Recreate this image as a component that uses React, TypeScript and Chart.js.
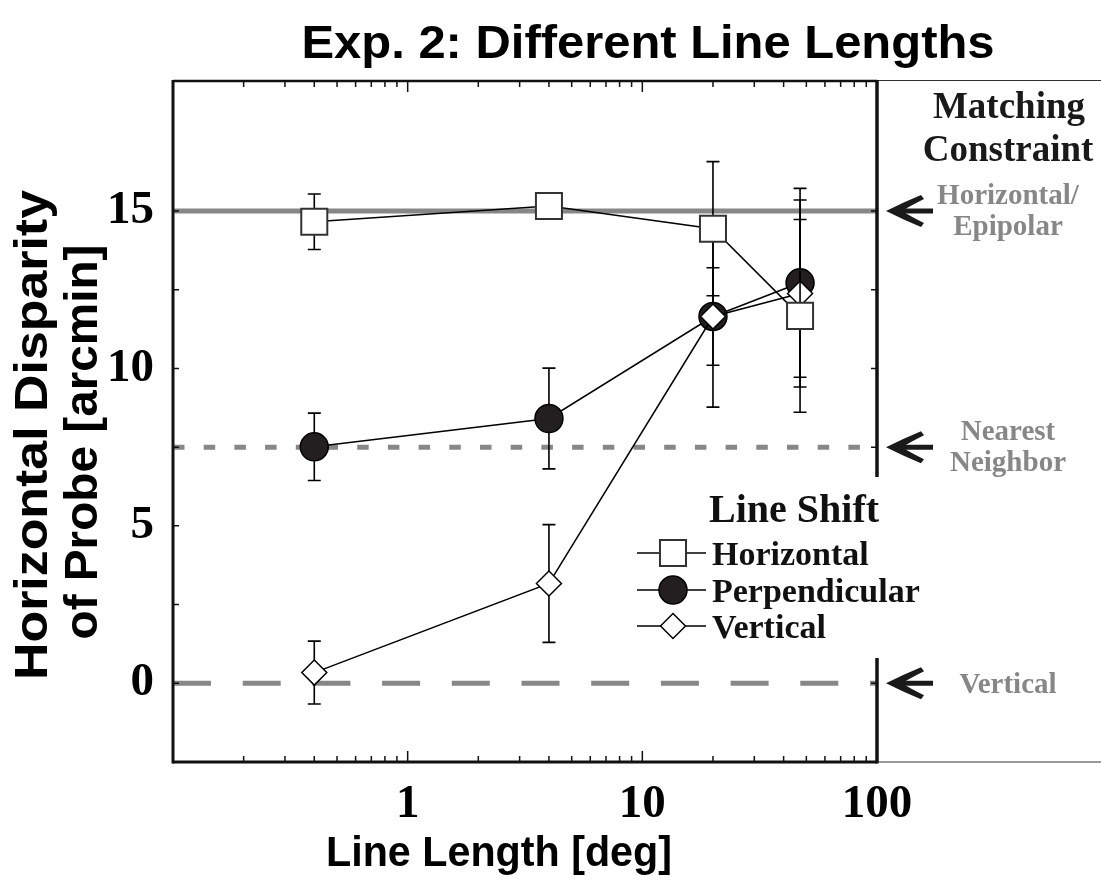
import React, { useEffect, useRef } from "react";
import { Chart, registerables } from "chart.js";

Chart.register(...registerables);

// ---- data ----
const lineLengths = [0.4, 4, 20, 47];
const horizontalMean = [14.66, 15.16, 14.44, 11.67];
const horizontalErr = [0.88, 0.35, 2.13, 3.06];
const perpendicularMean = [7.51, 8.41, 11.65, 12.72];
const perpendicularErr = [1.07, 1.6, 2.88, 3.0];
const verticalMean = [0.34, 3.17, 11.65, 12.38];
const verticalErr = [1.0, 1.87, 1.55, 2.97];

const seriesNames = ["Horizontal", "Perpendicular", "Vertical"];
const constraintLevels = [15, 7.5, 0];
const constraintLabels = [["Horizontal/", "Epipolar"], ["Nearest", "Neighbor"], ["Vertical"]];
const constraintTitle = ["Matching", "Constraint"];
const legendTitle = "Line Shift";
const chartTitle = "Exp. 2: Different Line Lengths";
const xTitle = "Line Length [deg]";
const yTitle = ["Horizontal Disparity", "of Probe [arcmin]"];

const xRange = [0.1, 100];
const yRange = [-2.5, 19.13];
const xTickLabels = [1, 10, 100];
const xDecades = [0.1, 1, 10];
const yTickLabels = [0, 5, 10, 15];
const yTickMarks = [0, 2.5, 5, 7.5, 10, 12.5, 15];

const GRAY = "#878787";
const SERIF = "'Liberation Serif', 'Times New Roman', serif";
const SANS = "'Liberation Sans', Arial, sans-serif";

const xTickValues: number[] = [];
xDecades.forEach((d) => {
  for (let k = 1; k <= 9; k++) xTickValues.push(d === 1 || d === 10 ? k * d : +(k * d).toFixed(2));
});
xTickValues.push(100);

const pts = (ys: number[]) => lineLengths.map((x, i) => ({ x, y: ys[i] }));
const refPts = (y: number) => [
  { x: xRange[0], y },
  { x: xRange[1], y },
];

// draw centred text stretched along its baseline to a given width
function fitText(ctx: CanvasRenderingContext2D, text: string, cx: number, y: number, targetW: number) {
  const w = ctx.measureText(text).width;
  const s = targetW / w;
  ctx.save();
  ctx.translate(cx, y);
  ctx.scale(s, 1);
  ctx.textAlign = "center";
  ctx.fillText(text, 0, 0);
  ctx.restore();
}

function drawMarker(ctx: CanvasRenderingContext2D, style: string, x: number, y: number, ds: any) {
  const r = ds.pointRadius;
  ctx.save();
  ctx.fillStyle = ds.pointBackgroundColor;
  ctx.strokeStyle = ds.pointBorderColor;
  ctx.lineWidth = ds.pointBorderWidth;
  ctx.beginPath();
  if (style === "rect") {
    const s = Math.SQRT1_2 * r;
    ctx.rect(x - s, y - s, 2 * s, 2 * s);
  } else if (style === "circle") {
    ctx.arc(x, y, r, 0, Math.PI * 2);
  } else {
    ctx.moveTo(x - r, y);
    ctx.lineTo(x, y - r);
    ctx.lineTo(x + r, y);
    ctx.lineTo(x, y + r);
    ctx.closePath();
  }
  ctx.fill();
  ctx.stroke();
  ctx.restore();
}

const LEGEND_BOX = { left: 628, right: 918, top: 477, bottom: 658 };

const decorPlugin = {
  id: "decor",
  beforeDatasetDraw(chart: any, args: any) {
    const ds = chart.data.datasets[args.index];
    if (!ds.errors) return;
    const { ctx } = chart;
    const xs = chart.scales.x;
    const ys = chart.scales.y;
    ctx.save();
    ctx.strokeStyle = "#000";
    ctx.lineWidth = 1.6;
    ds.data.forEach((p: any, i: number) => {
      const px = xs.getPixelForValue(p.x);
      const top = ys.getPixelForValue(p.y + ds.errors[i]);
      const bot = ys.getPixelForValue(p.y - ds.errors[i]);
      ctx.beginPath();
      ctx.moveTo(px, top);
      ctx.lineTo(px, bot);
      ctx.moveTo(px - 6.5, top);
      ctx.lineTo(px + 6.5, top);
      ctx.moveTo(px - 6.5, bot);
      ctx.lineTo(px + 6.5, bot);
      ctx.stroke();
    });
    ctx.restore();
  },
  afterDraw(chart: any) {
    const { ctx, chartArea: ca, width } = chart;
    const xs = chart.scales.x;
    const ys = chart.scales.y;
    ctx.save();
    ctx.strokeStyle = "#111";
    ctx.lineCap = "butt";

    // ticks (inward)
    ctx.lineWidth = 1.5;
    xTickValues.forEach((v) => {
      if (v <= xRange[0] || v >= xRange[1]) return;
      const px = xs.getPixelForValue(v);
      const major = xTickLabels.includes(v);
      const len = major ? 11 : 6;
      ctx.beginPath();
      ctx.moveTo(px, ca.bottom);
      ctx.lineTo(px, ca.bottom - len);
      ctx.moveTo(px, ca.top);
      ctx.lineTo(px, ca.top + len);
      ctx.stroke();
    });
    yTickMarks.forEach((v) => {
      const py = ys.getPixelForValue(v);
      ctx.beginPath();
      ctx.moveTo(ca.left, py);
      ctx.lineTo(ca.left + 6, py);
      ctx.moveTo(ca.right, py);
      ctx.lineTo(ca.right - 6, py);
      ctx.stroke();
    });

    // frame
    ctx.lineWidth = 3;
    ctx.beginPath();
    ctx.moveTo(ca.left, ca.top - 1);
    ctx.lineTo(ca.left, ca.bottom + 1.5);
    ctx.stroke();
    ctx.lineWidth = 2.5;
    ctx.beginPath();
    ctx.moveTo(ca.left, ca.top);
    ctx.lineTo(ca.right, ca.top);
    ctx.stroke();
    ctx.lineWidth = 3;
    ctx.beginPath();
    ctx.moveTo(ca.left, ca.bottom);
    ctx.lineTo(ca.right, ca.bottom);
    ctx.stroke();
    ctx.lineWidth = 1.2;
    ctx.strokeStyle = "#333";
    ctx.beginPath();
    ctx.moveTo(ca.right, ca.top - 0.5);
    ctx.lineTo(width, ca.top - 0.5);
    ctx.stroke();
    ctx.strokeStyle = "#777";
    ctx.lineWidth = 1.5;
    ctx.beginPath();
    ctx.moveTo(ca.right, ca.bottom);
    ctx.lineTo(width, ca.bottom);
    ctx.stroke();
    ctx.strokeStyle = "#111";
    ctx.lineWidth = 3.5;
    ctx.beginPath();
    ctx.moveTo(ca.right, ca.top - 1);
    ctx.lineTo(ca.right, ca.bottom + 1.5);
    ctx.stroke();

    // legend box (white, hides part of the right line)
    ctx.fillStyle = "#fff";
    ctx.fillRect(LEGEND_BOX.left, LEGEND_BOX.top, LEGEND_BOX.right - LEGEND_BOX.left, LEGEND_BOX.bottom - LEGEND_BOX.top);

    // legend content
    ctx.fillStyle = "#111";
    ctx.textAlign = "left";
    ctx.textBaseline = "alphabetic";
    ctx.font = `bold 40px ${SERIF}`;
    ctx.fillText(legendTitle, 709, 522);
    const rowBase = [565, 602, 638];
    const series = [0, 1, 2].map((i) => chart.data.datasets[i]);
    series.forEach((ds: any, i: number) => {
      const cy = rowBase[i] - 12;
      ctx.strokeStyle = "#000";
      ctx.lineWidth = 1.5;
      ctx.beginPath();
      ctx.moveTo(637, cy);
      ctx.lineTo(706, cy);
      ctx.stroke();
      drawMarker(ctx, ds.pointStyle, 673, cy, ds);
      ctx.fillStyle = "#111";
      ctx.font = `bold 34px ${SERIF}`;
      ctx.fillText(ds.label, 712, rowBase[i]);
    });

    // right-hand annotations
    ctx.textAlign = "center";
    ctx.fillStyle = "#1a1a1a";
    ctx.font = `bold 37px ${SERIF}`;
    ctx.fillText(constraintTitle[0], 1009, 118);
    ctx.fillText(constraintTitle[1], 1008, 161);
    constraintLevels.forEach((lvl, i) => {
      const py = ys.getPixelForValue(lvl);
      // arrow
      ctx.fillStyle = "#1a1a1a";
      ctx.strokeStyle = "#1a1a1a";
      ctx.lineWidth = 5;
      ctx.beginPath();
      ctx.moveTo(897, py);
      ctx.lineTo(933, py);
      ctx.stroke();
      ctx.beginPath();
      ctx.moveTo(886, py);
      ctx.quadraticCurveTo(904, py - 9, 921, py - 16);
      ctx.lineTo(924, py - 12);
      ctx.quadraticCurveTo(910, py - 5, 902, py);
      ctx.quadraticCurveTo(910, py + 5, 924, py + 12);
      ctx.lineTo(921, py + 16);
      ctx.quadraticCurveTo(904, py + 9, 886, py);
      ctx.closePath();
      ctx.fill();
      // label
      ctx.fillStyle = GRAY;
      ctx.font = `bold 29px ${SERIF}`;
      const lines = constraintLabels[i];
      if (lines.length === 1) {
        ctx.fillText(lines[0], 1008, py + 10);
      } else {
        ctx.fillText(lines[0], 1008, py - 7);
        ctx.fillText(lines[1], 1008, py + 24);
      }
    });

    // titles
    ctx.fillStyle = "#000";
    ctx.font = `bold 47px ${SANS}`;
    fitText(ctx, chartTitle, 648, 58, 693);
    ctx.font = `bold 42px ${SANS}`;
    fitText(ctx, xTitle, 499, 866, 346);
    ctx.save();
    ctx.rotate(-Math.PI / 2);
    ctx.font = `bold 47px ${SANS}`;
    fitText(ctx, yTitle[0], -435, 47, 490);
    fitText(ctx, yTitle[1], -442, 97, 395);
    ctx.restore();

    ctx.restore();
  },
};

export default function App() {
  const canvasRef = useRef<HTMLCanvasElement | null>(null);

  useEffect(() => {
    const canvas = canvasRef.current;
    if (!canvas) return;
    const common = { showLine: true, borderColor: "#000", borderWidth: 1.5 };
    const chart = new Chart(canvas, {
      type: "scatter",
      data: {
        datasets: [
          {
            ...common,
            label: seriesNames[0],
            data: pts(horizontalMean),
            errors: horizontalErr,
            pointStyle: "rect",
            pointRadius: 18.4,
            pointBackgroundColor: "#fff",
            pointBorderColor: "#333",
            pointBorderWidth: 2,
            order: 1,
          } as any,
          {
            ...common,
            label: seriesNames[1],
            data: pts(perpendicularMean),
            errors: perpendicularErr,
            pointStyle: "circle",
            pointRadius: 14,
            pointBackgroundColor: "#231f20",
            pointBorderColor: "#000",
            pointBorderWidth: 1.5,
            order: 3,
          } as any,
          {
            ...common,
            label: seriesNames[2],
            data: pts(verticalMean),
            errors: verticalErr,
            pointStyle: "rectRot",
            pointRadius: 12.5,
            pointBackgroundColor: "#fff",
            pointBorderColor: "#000",
            pointBorderWidth: 1.5,
            order: 2,
          } as any,
          {
            label: "ref15",
            data: refPts(constraintLevels[0]),
            showLine: true,
            borderColor: GRAY,
            borderWidth: 5,
            pointRadius: 0,
            order: 10,
          },
          {
            label: "ref7.5",
            data: refPts(constraintLevels[1]),
            showLine: true,
            borderColor: GRAY,
            borderWidth: 5,
            borderDash: [11.5, 19.2],
            pointRadius: 0,
            order: 10,
          },
          {
            label: "ref0",
            data: refPts(constraintLevels[2]),
            showLine: true,
            borderColor: GRAY,
            borderWidth: 5,
            borderDash: [38, 31.7],
            pointRadius: 0,
            order: 10,
          },
        ],
      },
      options: {
        animation: false,
        responsive: false,
        events: [],
        layout: { padding: { top: 81, right: 224, left: 0, bottom: 0 } },
        plugins: { legend: { display: false }, tooltip: { enabled: false }, title: { display: false } },
        scales: {
          x: {
            type: "logarithmic",
            min: xRange[0],
            max: xRange[1],
            grid: { display: false },
            border: { display: false },
            afterFit: (s: any) => {
              s.height = 122;
            },
            afterBuildTicks: (s: any) => {
              s.ticks = xTickValues.map((v) => ({ value: v }));
            },
            ticks: {
              autoSkip: false,
              maxRotation: 0,
              padding: 11,
              color: "#000",
              font: { family: SERIF, size: 47, weight: "bold", lineHeight: 1 },
              callback: (v: any) => (xTickLabels.includes(Number(v)) ? String(v) : ""),
            },
          },
          y: {
            type: "linear",
            min: yRange[0],
            max: yRange[1],
            grid: { display: false },
            border: { display: false },
            afterFit: (s: any) => {
              s.width = 173;
            },
            afterBuildTicks: (s: any) => {
              s.ticks = yTickMarks.map((v) => ({ value: v }));
            },
            ticks: {
              padding: 11,
              color: "#000",
              font: { family: SERIF, size: 47, weight: "bold", lineHeight: 1 },
              callback: (v: any) => (yTickLabels.includes(Number(v)) ? String(v) : ""),
            },
          },
        },
      } as any,
      plugins: [decorPlugin],
    });
    return () => chart.destroy();
  }, []);

  return (
    <div style={{ position: "absolute", left: 0, top: 0, width: 1101, height: 884, background: "#fff" }}>
      <canvas ref={canvasRef} width={1101} height={884} style={{ width: 1101, height: 884 }} />
    </div>
  );
}
